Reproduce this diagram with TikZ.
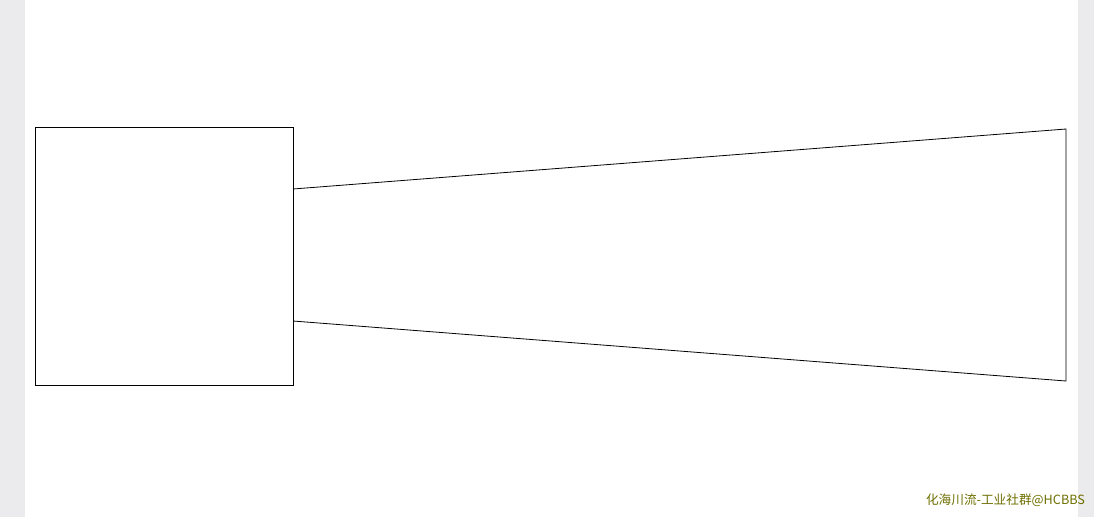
\documentclass[tikz,border=0pt]{standalone}
\usepackage{fontspec}
\newfontfamily\cjk{Noto Sans CJK SC}
\definecolor{margingray}{RGB}{235,235,237}
\definecolor{markolive}{RGB}{110,110,0}
\tikzset{
  outline/.style={draw=black,line width=0.6pt},
  margin/.style={fill=margingray,draw=none}
}
\begin{document}
\begin{tikzpicture}[x=0.75pt,y=-0.75pt]

  \useasboundingbox (0,0) rectangle (1094,517);

  % page margins
  \fill[margin] (0,0) rectangle (25,517);
  \fill[margin] (1078,0) rectangle (1094,517);

  % square block
  \node[outline,minimum size=193.5pt,inner sep=0pt] (block) at (164,256) {};

  % horn corners
  \coordinate (hornTL) at (293,189);
  \coordinate (hornBL) at (293,321);
  \coordinate (hornTR) at (1066,129);
  \coordinate (hornBR) at (1066,381);

  \draw[outline] (hornTL) -- (hornTR) -- (hornBR) -- (hornBL);

  % watermark
  \node[text=markolive,font=\cjk\fontsize{9.5}{11}\selectfont,inner sep=0pt] (mark) at (1005.5,500) {化海川流-工业社群@HCBBS};

\end{tikzpicture}
\end{document}
